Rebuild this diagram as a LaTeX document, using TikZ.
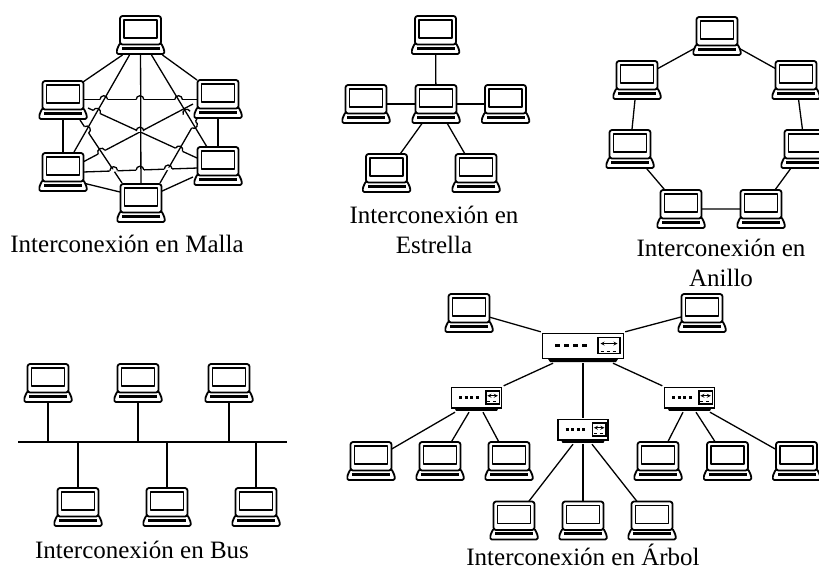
\documentclass[tikz,border=0pt]{standalone}
\usepackage{fontspec}
\setmainfont{Liberation Serif}
\usetikzlibrary{backgrounds, calc}
\newcommand{\laptopart}{
    \begin{scope}[shift={(path picture bounding box.center)}, line width=1.8pt, line join=round]
        \filldraw [fill=white, rounded corners=1.5pt] (-20.5,8) -- (-23.8,15) -- (-23.8,19) -- (23.8,19) -- (23.8,15) -- (20.5,8) -- cycle;
        \filldraw [fill=white, rounded corners=2.5pt] (-20.5,-19) rectangle (20.5,9.5);
        \draw (-16.5,-15) rectangle (16.5,3);
        \fill [black] (-19,11.5) rectangle (19,14.8);
    \end{scope}
}
\newcommand{\switchart}[2]{
    \begin{scope}[x=#1pt, y=-#2pt, shift={(path picture bounding box.center)}, line width=1.6pt]
        \fill [black] (-36,10) -- (36,10) -- (33,14.5) -- (-33,14.5) -- cycle;
        \filldraw [fill=white] (-40.5,-14) rectangle (40.5,11);
        \draw [line width=2.4pt] (-28,-2) -- (-23,-2) (-19,-2) -- (-14,-2) (-10,-2) -- (-5,-2) (-1,-2) -- (4,-2);
        \draw (15,-10) rectangle (37,6);
        \draw [line width=.8pt, <->, >=stealth] (17.5,-4) -- (34.5,-4);
        \draw [line width=.8pt, dashed] (17.5,3.5) -- (34.5,3.5);
    \end{scope}
}
\tikzstyle{laptop} = [rectangle, inner sep=0pt, minimum width=49pt, minimum height=40pt, path picture={\laptopart}]
\tikzstyle{mainswitch} = [rectangle, inner sep=0pt, minimum width=84pt, minimum height=31pt, path picture={\switchart{1}{1}}]
\tikzstyle{subswitch} = [rectangle, inner sep=0pt, minimum width=54pt, minimum height=26pt, path picture={\switchart{.62}{.82}}]
\tikzstyle{link} = [line width=1.3pt]
\tikzstyle{caption} = [font=\fontsize{25}{30}\selectfont, text=black, inner sep=0pt]
\begin{document}
\begin{tikzpicture}[x=1pt, y=-1pt]
            \useasboundingbox (0,0) rectangle (819,570);

            % malla
            \node [laptop] at (140.5,35) (mtop) {};
            \node [laptop] at (63,100) (mlu) {};
            \node [laptop] at (218,99) (mru) {};
            \node [laptop] at (63,172) (mll) {};
            \node [laptop] at (218,166) (mrl) {};
            \node [laptop] at (141,203) (mbot) {};
            \node [caption] at (127,244) (mcap) {Interconexión en Malla};

            % estrella
            \node [laptop] at (435.5,35) (stop) {};
            \node [laptop] at (436,104) (scen) {};
            \node [laptop] at (366,104) (sleft) {};
            \node [laptop] at (505.5,104) (sright) {};
            \node [laptop] at (386.5,173) (sbl) {};
            \node [laptop] at (476,173) (sbr) {};
            \node [caption, align=center] at (434,230) (scap) {Interconexión en\\Estrella};

            % anillo
            \node [laptop] at (717,36) (rtop) {};
            \node [laptop] at (637,80) (rlu) {};
            \node [laptop] at (796,80) (rru) {};
            \node [laptop] at (630,149) (rll) {};
            \node [laptop] at (805,149) (rrl) {};
            \node [laptop] at (681,209) (rbl) {};
            \node [laptop] at (761,209) (rbr) {};
            \node [caption, align=center] at (721,263) (rcap) {Interconexión en\\Anillo};

            % bus
            \coordinate (busl) at (18,442);
            \coordinate (busr) at (287,442);
            \node [laptop] at (48,383) (b1) {};
            \node [laptop] at (138,383) (b2) {};
            \node [laptop] at (229,383) (b3) {};
            \node [laptop] at (78,507) (b4) {};
            \node [laptop] at (167,507) (b5) {};
            \node [laptop] at (256,507) (b6) {};
            \node [caption] at (142,550) (bcap) {Interconexión en Bus};

            % arbol
            \node [laptop] at (469,313) (tl) {};
            \node [laptop] at (702,313) (tr) {};
            \node [mainswitch] at (583,347.5) (tmain) {};
            \node [subswitch] at (476.5,399) (tsl) {};
            \node [subswitch] at (689.5,399) (tsr) {};
            \node [subswitch] at (583,431) (tsm) {};
            \node [laptop] at (371,461) (t1) {};
            \node [laptop] at (440,461) (t2) {};
            \node [laptop] at (509,461) (t3) {};
            \node [laptop] at (658,461) (t4) {};
            \node [laptop] at (727.5,461) (t5) {};
            \node [laptop] at (796.5,461) (t6) {};
            \node [laptop] at (514,520.5) (t7) {};
            \node [laptop] at (583,520.5) (t8) {};
            \node [laptop] at (652,520.5) (t9) {};
            \node [caption] at (583,555) (tcap) {Interconexión en Árbol};

            \begin{pgfonlayer}{background}
            % malla: lineas con saltos
            \draw [link] (mlu.center) -- (mll.center);
            \draw [link] (mru.center) -- (mrl.center);
            \draw [link] ($(mlu)+(20,-0.5)$) -- ($(mru)+(-20,0.5)$);
            \draw [link] ($(mll)+(20,0)$) -- ($(mrl)+(-20,2)$);
            \draw [link] ($(mlu)+(25,8)$) -- ($(mrl)+(-21,-8)$);
            \draw [link] ($(mll)+(20,-10)$) -- ($(mru)+(-25,5)$);
            \foreach \hx/\hy/\ha in {103.8/99.5/0, 140/99.5/0, 178.6/99.5/0, 140/170/-2, 96.7/112/25, 186.7/113/-27, 140/131/0, 101.5/152/-28, 179/149.8/25} {
                \draw [white, line width=2.5pt] ($(\hx,\hy)+(\ha:-3.8)$) -- ($(\hx,\hy)+(\ha:3.8)$);
                \draw [link] ($(\hx,\hy)+(\ha:-3.8)$) arc [start angle=\ha+180, delta angle=180, radius=3.8];
            }
            \draw [link] ($(mlu)+(17,20)$) -- ($(mbot)+(-19,-20)$);
            \draw [link] ($(mru)+(-20,18)$) -- ($(mbot)+(19,-20)$);
            \foreach \hx/\hy/\ha in {113.7/170.5/-2, 168.2/168.8/-2, 86.6/129.8/57, 193.6/124.6/120} {
                \draw [white, line width=2.5pt] ($(\hx,\hy)+(\ha:-3.8)$) -- ($(\hx,\hy)+(\ha:3.8)$);
                \draw [link] ($(\hx,\hy)+(\ha:-3.8)$) arc [start angle=\ha+180, delta angle=180, radius=3.8];
            }
            \draw [link] ($(mtop)+(-18,20)$) -- ($(mlu)+(20,-18)$);
            \draw [link] ($(mtop)+(22,20)$) -- ($(mru)+(-21,-19)$);
            \draw [link] ($(mtop)+(-11,20)$) -- ($(mll)+(11,-20)$);
            \draw [link] ($(mtop)+(11,20)$) -- ($(mrl)+(-11,-19)$);
            \draw [link] (mtop.center) -- (mbot.center);
            \draw [link] ($(mll)+(20,11)$) -- ($(mbot)+(-21,-11)$);
            \draw [link] ($(mrl)+(-25,11)$) -- ($(mbot)+(19,-11)$);

            % estrella
            \draw [link] (scen.center) -- (stop.center);
            \draw [link] (scen.center) -- (sleft.center);
            \draw [link] (scen.center) -- (sright.center);
            \draw [link] (scen.center) -- (sbl.center);
            \draw [link] (scen.center) -- (sbr.center);

            % anillo
            \draw [link] (rtop.center) -- (rru.center) -- (rrl.center) -- (rbr.center) -- (rbl.center) -- (rll.center) -- (rlu.center) -- (rtop.center);

            % bus
            \draw [link] (busl) -- (busr);
            \foreach \lap in {b1, b2, b3} {
                \draw [link] (\lap.south) -- (\lap.south |- busl);
            }
            \foreach \lap in {b4, b5, b6} {
                \draw [link] (\lap.north) -- (\lap.north |- busl);
            }

            % arbol
            \draw [link] ($(tl)+(20,4)$) -- (tmain.north west);
            \draw [link] ($(tr)+(-21,4)$) -- (tmain.north east);
            \draw [link] ($(tmain.south)+(-30,0)$) -- (tsl.north east);
            \draw [link] ($(tmain.south)+(30,0)$) -- (tsr.north west);
            \draw [link] (tmain.south) -- (tsm.north);
            \draw [link] ($(tsl.south)+(-21.5,0)$) -- (t1.center);
            \draw [link] ($(tsl.south)+(-7.5,0)$) -- (t2.center);
            \draw [link] ($(tsl.south)+(6.5,0)$) -- (t3.center);
            \draw [link] ($(tsr.south)+(-6.5,0)$) -- (t4.center);
            \draw [link] ($(tsr.south)+(6.5,0)$) -- (t5.center);
            \draw [link] ($(tsr.south)+(20.5,0)$) -- (t6.center);
            \draw [link] ($(tsm.south)+(-10,0)$) -- (t7.center);
            \draw [link] (tsm.south) -- (t8.center);
            \draw [link] ($(tsm.south)+(9,0)$) -- (t9.center);
            \end{pgfonlayer}
\end{tikzpicture}
\end{document}
